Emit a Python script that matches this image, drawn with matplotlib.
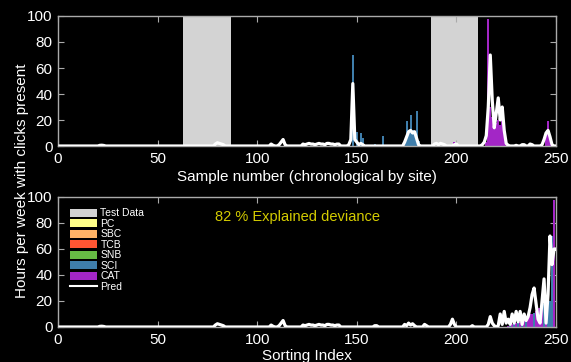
import numpy as np
import matplotlib
matplotlib.use("Agg")
import matplotlib.pyplot as plt
from matplotlib.patches import Patch
from matplotlib.lines import Line2D

plt.rcParams['font.family'] = ['Liberation Sans', 'DejaVu Sans']

n_samples = 250
test_spans = [(63, 87), (187, 211)]

species = ['PC', 'SBC', 'TCB', 'SNB', 'SCI', 'CAT']
species_colors = ['#ffff88', '#ffb366', '#ff5533', '#66bb44', '#3f7eab', '#a326c6']

# observed hours per week (top, chronological), only non-zero samples
sci_top_x = [148, 150, 152, 153, 159, 163, 174, 175, 176, 177, 178, 179, 180, 181]
sci_top_v = [70, 11, 10, 6, 1.5, 8, 3, 19, 11, 24, 12, 10, 27, 4]
cat_top_x = [199, 200, 215, 216, 217, 218, 219, 220, 221, 222, 223, 224, 225, 245, 246, 247]
cat_top_v = [3, 1.5, 3, 98, 30, 22, 15, 18, 20, 16, 22, 12, 2, 10, 19, 6]

# model prediction (top), non-zero samples
pred_top_x = [21, 22, 23, 79, 80, 81, 82, 83, 107, 108, 111, 112, 113, 114,
              123, 124, 125, 126, 127, 128, 129, 130, 131, 132, 133, 134, 135, 136,
              137, 138, 139, 140, 141, 146, 147, 148, 149, 150, 151, 152, 153,
              174, 175, 176, 177, 178, 179, 180, 181, 189, 190, 191, 192, 193, 194,
              199, 200, 213, 214, 215, 216, 217, 218, 219, 220, 221, 222, 223, 224,
              225, 226, 230, 233, 234, 237, 238, 243, 244, 245, 246, 247, 248]
pred_top_v = [0.5, 0.6, 0.4, 1.5, 2.5, 2, 1.5, 1, 1.5, 0.5, 1, 3, 5, 1,
              1.5, 1, 1.5, 2, 1.5, 1.5, 1, 1.5, 2, 1.5, 1.5, 1, 2, 2,
              1.5, 1.5, 1, 1.5, 1.5, 1, 5, 48, 5, 3, 1, 2, 1,
              3, 7, 11, 12, 10, 11, 6, 1, 1.5, 2, 1, 2, 1.5, 1,
              1, 1.5, 1, 3, 8, 30, 70, 35, 14, 25, 37, 20, 30, 12,
              2, 0.5, 0.5, 1, 1, 1.5, 1, 1, 5, 10, 12, 7, 1]

# sorted panel (bottom)
sci_bot_x = [227, 229, 231, 233, 235, 239, 244, 246, 247, 248]
sci_bot_v = [1, 2, 3, 4, 6, 11, 18, 19, 20, 70]
cat_bot_x = [226, 228, 230, 232, 234, 236, 237, 238, 240, 241, 242, 243, 245, 249]
cat_bot_v = [1, 2, 3, 4, 5, 8, 10, 10, 12, 15, 15, 16, 18, 98]

pred_bot_x = [21, 22, 23, 79, 80, 81, 82, 83, 107, 108, 111, 112, 113, 114,
              123, 124, 125, 126, 127, 128, 129, 130, 131, 132, 133, 134, 135, 136,
              137, 138, 139, 140, 141, 159, 160, 174, 175, 176, 177, 178, 179,
              184, 185, 197, 198, 199, 208, 216, 217, 218, 219, 221, 222, 223, 224,
              225, 226, 227, 228, 229, 230, 231, 232, 233, 234, 235, 236, 237, 238,
              239, 240, 241, 242, 243, 244, 245, 246, 247, 248, 249, 250]
pred_bot_v = [0.5, 0.6, 0.4, 1.5, 2.5, 2, 1.5, 1, 1.5, 0.5, 1, 3, 5, 1,
              1.5, 1, 1.5, 2, 1.5, 1.5, 1, 1.5, 2, 1.5, 1.5, 1, 2, 2,
              1.5, 1.5, 1, 1.5, 1.5, 1, 1, 2, 1, 3, 1.5, 2.5, 1,
              2, 1, 2, 6, 2, 1, 2, 8, 3, 1, 1, 10, 2, 12,
              3, 6, 2, 10, 3, 12, 4, 12, 2, 10, 5, 8, 15, 25,
              30, 18, 6, 3, 20, 37, 3, 25, 70, 48, 60, 60]

explained = 82


def series(xs, vs):
    arr = np.zeros(n_samples)
    arr[np.array(xs) - 1] = vs
    return arr


x = np.arange(1, n_samples + 1)

fig = plt.figure(figsize=(5.71, 3.62), dpi=100, facecolor='black')
ax1 = fig.add_axes([58 / 571, 1 - 146 / 362, 498 / 571, 130 / 362])
ax2 = fig.add_axes([58 / 571, 1 - 327 / 362, 498 / 571, 130 / 362])


def style(ax):
    ax.set_facecolor('black')
    ax.set_xlim(0, 250)
    ax.set_ylim(0, 100)
    ax.set_xticks([0, 50, 100, 150, 200, 250])
    ax.set_yticks([0, 20, 40, 60, 80, 100])
    for s in ax.spines.values():
        s.set_color('#aaaaaa')
        s.set_linewidth(1)
    ax.tick_params(direction='in', top=True, right=True, color='#aaaaaa',
                   labelcolor='white', labelsize=11, length=4, pad=4)


# top: chronological
for a, b in test_spans:
    ax1.axvspan(a, b, color='#d3d3d3', zorder=0, lw=0)
ax1.bar(x, series(sci_top_x, sci_top_v), width=1.0, color=species_colors[4], lw=0, zorder=2)
ax1.bar(x, series(cat_top_x, cat_top_v), width=1.0, color=species_colors[5], lw=0, zorder=2)
ax1.plot(x, series(pred_top_x, pred_top_v), color='white', lw=2.3, zorder=3)
style(ax1)
ax1.set_xlabel('Sample number (chronological by site)', color='white', fontsize=11, labelpad=3)

# bottom: sorted
ax2.bar(x, series(sci_bot_x, sci_bot_v), width=1.0, color=species_colors[4], lw=0, zorder=2)
ax2.bar(x, series(cat_bot_x, cat_bot_v), width=1.0, color=species_colors[5], lw=0, zorder=2)
ax2.plot(x, series(pred_bot_x, pred_bot_v), color='white', lw=2.3, zorder=3)
style(ax2)
ax2.set_xlabel('Sorting Index', color='white', fontsize=11, labelpad=2)
ax2.text(79, 85, '%d %% Explained deviance' % explained, color='#d4cc00', fontsize=10.5,
         va='center', ha='left')

handles = [Patch(facecolor='#d3d3d3', edgecolor='none', label='Test Data')]
for name, c in zip(species, species_colors):
    handles.append(Patch(facecolor=c, edgecolor='none', label=name))
handles.append(Line2D([], [], color='white', lw=1.5, label='Pred'))
leg = ax2.legend(handles=handles, loc='upper left', frameon=False, fontsize=7.5,
                 handlelength=2.6, handleheight=0.8, labelspacing=0.05,
                 handletextpad=0.3, borderaxespad=0.3, bbox_to_anchor=(0.01, 0.97))
for t in leg.get_texts():
    t.set_color('white')

fig.text(22 / 571, 0.5, 'Hours per week with clicks present', rotation=90,
         color='white', fontsize=11, ha='center', va='center')

fig.savefig('out.png', dpi=100, facecolor='black')
